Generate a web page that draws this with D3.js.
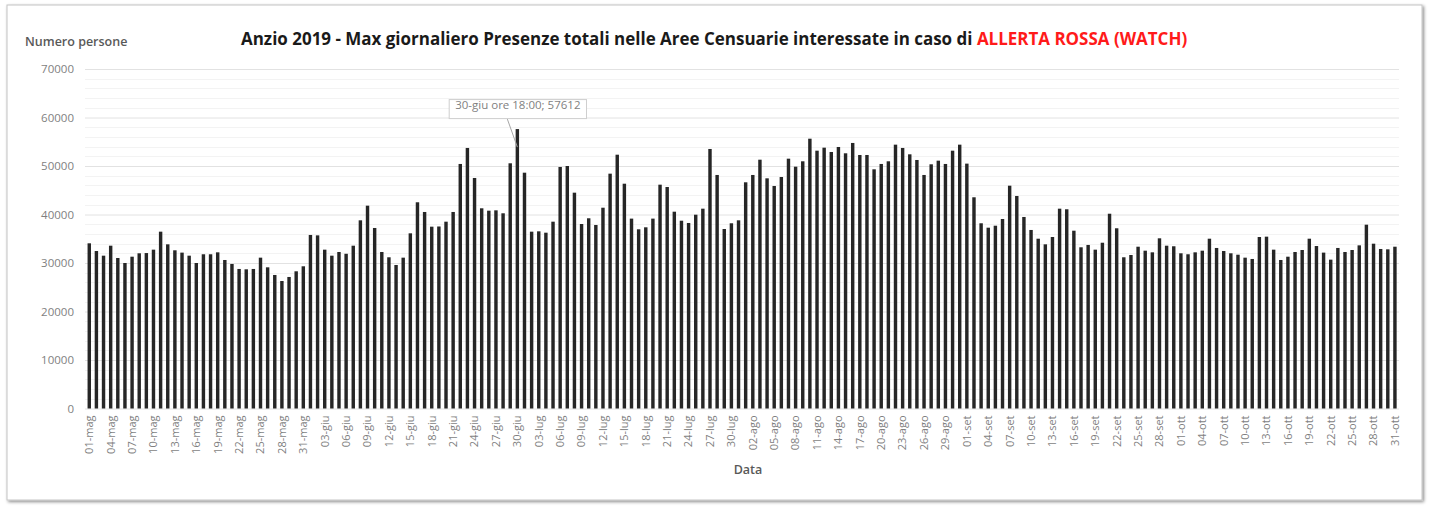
<!DOCTYPE html>
<html>
<head>
<meta charset="utf-8">
<script src="https://cdn.jsdelivr.net/npm/d3@7"></script>
<style>
    body { margin: 0; background: #fff; }
    svg text { font-family: "Open Sans", "Liberation Sans", sans-serif; }
</style>
</head>
<body>
<div id="chart"></div>
<script>

// giorni dal 01-mag al 31-ott 2019
const startDay = new Date(2019, 4, 1);
const endDay = new Date(2019, 10, 1);
const monthNames = ["gen", "feb", "mar", "apr", "mag", "giu", "lug", "ago", "set", "ott", "nov", "dic"];

const presMag = [34060, 32470, 31510, 33570, 31030, 30000, 31300, 32000, 32050, 32750,
    36460, 33850, 32620, 32140, 31510, 30000, 31800, 31800, 32200, 30620,
    29800, 28770, 28700, 28770, 31100, 29110, 27530, 26290, 27120, 28290, 29320];
const presGiu = [35780, 35700, 32750, 31510, 32270, 31900, 33570, 38800, 41820, 37220,
    32270, 31180, 29590, 31100, 36120, 42520, 40520, 37490, 37530, 38520,
    40520, 50420, 53720, 47530, 41280, 40790, 40860, 40250, 50560, 57612];
const presLug = [48620, 36460, 36530, 36250, 38520, 49800, 50000, 44500, 38040, 39220,
    37840, 41400, 48420, 52330, 46350, 39150, 36950, 37360, 39150, 46150,
    45670, 40580, 38720, 38250, 39960, 41200, 53510, 48150, 37010, 38190, 38800];
const presAgo = [46640, 48150, 51300, 47460, 45880, 47730, 51510, 49860, 50970, 55630,
    53160, 53780, 52890, 53920, 52620, 54750, 52270, 52270, 49320, 50420,
    50970, 54400, 53720, 52410, 51240, 48150, 50350, 51100, 50420, 53160, 54400];
const presSet = [50490, 43550, 38190, 37280, 37690, 39070, 45940, 43820, 39490, 36810,
    35010, 33850, 35360, 41200, 41080, 36660, 33240, 33720, 32750, 34180,
    40160, 37160, 31180, 31650, 33360, 32540, 32200, 35090, 33570, 33450];
const presOtt = [32000, 31800, 32200, 32540, 35010, 33100, 32470, 32000, 31710, 31100,
    30830, 35360, 35430, 32750, 30620, 31300, 32270, 32680, 35010, 33500,
    32140, 30690, 33100, 32270, 32680, 33640, 37900, 33980, 32890, 32820, 33360];

const yTicks = [0, 10000, 20000, 30000, 40000, 50000, 60000, 70000];
const peakLabel = "30-giu ore 18:00; 57612";

const titleBlack = "Anzio 2019 - Max giornaliero Presenze totali nelle Aree Censuarie interessate in caso di ";
const titleRed = "ALLERTA ROSSA (WATCH)";

let width = 1429,
    height = 506;

let fmtDay = function (d) {
    return d3.timeFormat("%d")(d) + "-" + monthNames[d.getMonth()];
};

let days = d3.timeDay.range(startDay, endDay).map(fmtDay);
let values = [].concat(presMag, presGiu, presLug, presAgo, presSet, presOtt);
let data = days.map(function (d, i) {
    return {day: d, value: values[i]};
});

let svg = d3.select("#chart").append("svg")
    .attr("width", width)
    .attr("height", height);

// cornice con ombra
let defs = svg.append("defs");
let filter = defs.append("filter").attr("id", "shadow")
    .attr("x", "-2%").attr("y", "-2%").attr("width", "104%").attr("height", "106%");
filter.append("feDropShadow")
    .attr("dx", 1.5).attr("dy", 1.5)
    .attr("stdDeviation", 1.6)
    .attr("flood-color", "#000")
    .attr("flood-opacity", 0.45);

svg.append("rect")
    .attr("x", 7).attr("y", 5)
    .attr("width", 1415).attr("height", 495)
    .attr("fill", "#fff")
    .attr("stroke", "#c4c4c4")
    .attr("stroke-width", 1)
    .attr("filter", "url(#shadow)");

let x = d3.scaleBand()
    .domain(days)
    .range([85.7, 1398.5])
    .paddingInner(0.52)
    .paddingOuter(0.26);

let y = d3.scaleLinear()
    .domain([0, 70000])
    .range([408.5, 69]);

// griglia secondaria ogni 2000
let minor = d3.range(0, 70001, 2000).filter(function (v) { return v % 10000 !== 0; });
svg.append("g").selectAll("line")
    .data(minor)
    .enter()
    .append("line")
    .attr("x1", 85).attr("x2", 1399)
    .attr("y1", function (d) { return Math.round(y(d)) + 0.5; })
    .attr("y2", function (d) { return Math.round(y(d)) + 0.5; })
    .attr("stroke", "#f3f3f3");

let yAxis = d3.axisLeft(y)
    .tickValues(yTicks)
    .tickSize(-(1399 - 85))
    .tickPadding(11)
    .tickFormat(d3.format("d"));

let gy = svg.append("g")
    .attr("transform", "translate(85,0)")
    .call(yAxis);
gy.select(".domain").remove();
gy.selectAll(".tick line").attr("stroke", "#e2e2e2");
gy.selectAll(".tick text")
    .attr("fill", "#7f7f7f")
    .style("font-size", "11.5px");

// barre
svg.append("g").selectAll("rect")
    .data(data)
    .enter()
    .append("rect")
    .attr("x", function (d) { return x(d.day); })
    .attr("width", x.bandwidth())
    .attr("y", function (d) { return y(d.value); })
    .attr("height", function (d) { return y(0) - y(d.value); })
    .attr("fill", "#262626");

// etichette asse x ogni 3 giorni
let xAxis = d3.axisBottom(x)
    .tickValues(days.filter(function (d, i) { return i % 3 === 0; }))
    .tickSize(0)
    .tickPadding(0);

let gx = svg.append("g")
    .attr("transform", "translate(0," + y(0) + ")")
    .call(xAxis);
gx.select(".domain").remove();
gx.selectAll(".tick text")
    .attr("transform", "rotate(-90)")
    .attr("x", -7)
    .attr("y", 0)
    .attr("dy", "0.35em")
    .attr("text-anchor", "end")
    .attr("fill", "#7f7f7f")
    .style("font-size", "11px");

// titoli assi
svg.append("text")
    .attr("x", 25).attr("y", 46)
    .attr("fill", "#595959")
    .style("font-size", "12.5px")
    .style("font-weight", "600")
    .text("Numero persone");

svg.append("text")
    .attr("x", 748).attr("y", 474)
    .attr("text-anchor", "middle")
    .attr("fill", "#595959")
    .style("font-size", "12.5px")
    .style("font-weight", "600")
    .text("Data");

// titolo
let title = svg.append("text")
    .attr("x", 241).attr("y", 45)
    .style("font-size", "16px")
    .style("font-weight", "700");
title.append("tspan").attr("fill", "#1a1a1a").text(titleBlack);
title.append("tspan").attr("fill", "#ff1a1a").text(titleRed);

let tw = title.node().getComputedTextLength();
title.style("font-size", (16 * 947 / tw) + "px");

// etichetta del massimo
let peak = data.reduce(function (a, b) { return b.value > a.value ? b : a; });
let px = x(peak.day) + x.bandwidth() / 2;
let py = y(peak.value);

let note = svg.append("g");
note.append("line")
    .attr("x1", px - 10).attr("y1", py - 10)
    .attr("x2", px).attr("y2", py + 18)
    .attr("stroke", "#a6a6a6");
let nt = note.append("text")
    .attr("x", px - 69 + 69.5).attr("y", py - 20.5)
    .attr("text-anchor", "middle")
    .attr("fill", "#7f7f7f")
    .style("font-size", "11.5px")
    .text(peakLabel);
let ntw = nt.node().getComputedTextLength();
note.insert("rect", "text")
    .attr("x", px + 0.5 - ntw / 2 - 6).attr("y", py - 29.5)
    .attr("width", ntw + 12).attr("height", 19)
    .attr("fill", "#fff")
    .attr("stroke", "#cfcfcf");

</script>
</body>
</html>
